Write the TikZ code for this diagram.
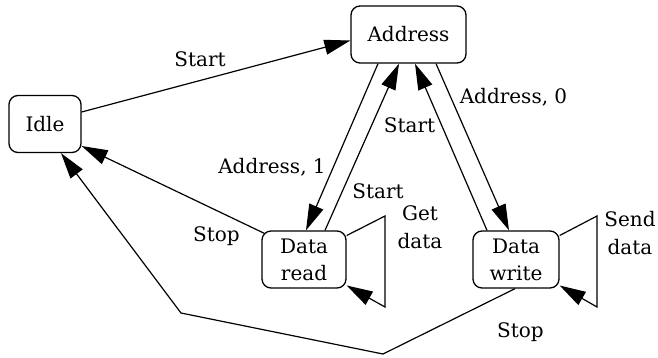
\documentclass[tikz,border=0pt]{standalone}
\usepackage{fontspec}
\setmainfont{DejaVu Serif}
\usetikzlibrary{arrows.meta,calc}
\begin{document}
\begin{tikzpicture}[x=1pt,y=-1pt,
  state/.style={draw,line width=1.3pt,rounded corners=9pt,inner sep=0pt,align=center,
     font=\fontsize{20}{27}\selectfont},
  lbl/.style={anchor=base,inner sep=0pt,align=center,font=\fontsize{20}{28}\selectfont},
  tr/.style={draw,line width=1.2pt,-{Triangle[length=26pt,width=15pt]}},
  plain/.style={draw,line width=1.2pt}]
\useasboundingbox (0,0) rectangle (658,357);
\node[state,minimum width=72pt,minimum height=57pt] (idle) at (45,124) {Idle};
\node[state,minimum width=115pt,minimum height=57pt] (addr) at (408.5,34.5) {Address};
\node[state,minimum width=84pt,minimum height=57pt] (read) at (304,259.5) {Data\\read};
\node[state,minimum width=86pt,minimum height=57pt] (write) at (516,259.5) {Data\\write};
% Idle -> Address
\draw[tr] ([yshift=12pt]idle.east) -- ([yshift=-6pt]addr.west);
\node[lbl] (l1) at (200,66) {Start};
% Address -> Data read
\draw[tr] ([xshift=-30.5pt]addr.south) -- ([xshift=2pt]read.north);
\node[lbl] (l2) at (272,173) {Address, 1};
% Data read -> Address
\draw[tr] ([xshift=21pt]read.north) -- ([xshift=-9.5pt]addr.south);
\node[lbl] (l3) at (378,198) {Start};
% Data write -> Address
\draw[tr] ([xshift=-29pt]write.north) -- ([xshift=6.5pt]addr.south);
\node[lbl] (l4) at (409.5,132) {Start};
% Address -> Data write
\draw[tr] ([xshift=27.5pt]addr.south) -- ([xshift=-7pt]write.north);
\node[lbl] (l5) at (513.5,103) {Address, 0};
% Data read -> Idle
\draw[tr] ($(read.north west)+(3,3)$) -- ([yshift=-22pt]idle.east);
\node[lbl] (l6) at (216.5,241) {Stop};
% Data write -> Idle
\coordinate (w1) at (383,354);
\coordinate (w2) at (181,313);
\draw[tr] ([xshift=-1pt]write.south) -- (w1) -- (w2) -- ([xshift=16pt]idle.south);
\node[lbl] (l7) at (520.5,337) {Stop};
% self loops
\coordinate (r1) at (385,216);
\coordinate (r2) at (385,307);
\draw[tr] ([yshift=24pt]read.east) -- (r1) -- (r2) -- ([yshift=-26pt]read.east);
\node[lbl] (l8) at (420,248) {Get\\data};
\coordinate (s1) at (597,216);
\coordinate (s2) at (597,307);
\draw[tr] ([yshift=24pt]write.east) -- (s1) -- (s2) -- ([yshift=-26pt]write.east);
\node[lbl] (l9) at (630,254) {Send\\data};
\end{tikzpicture}
\end{document}
